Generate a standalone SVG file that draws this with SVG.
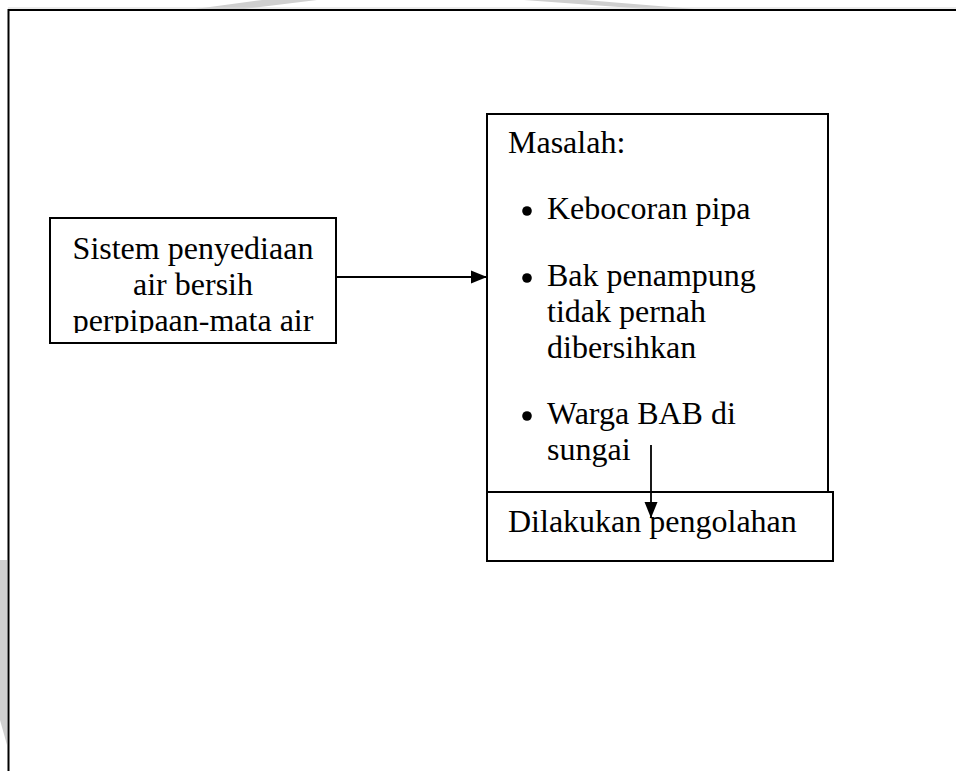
<svg xmlns="http://www.w3.org/2000/svg" width="956" height="771" viewBox="0 0 956 771">
  <style>
    .box { fill: #ffffff; stroke: #000000; stroke-width: 2; }
    .t { font-family: "Liberation Serif", "Times New Roman", serif; font-size: 32px; fill: #000000; }
    .edge { stroke: #000000; stroke-width: 1.8; fill: none; }
    .wm { fill: #cfcfcf; }
  </style>
  <defs>
    <marker id="arrow" viewBox="0 0 16 14" refX="16" refY="7" markerWidth="16" markerHeight="14" markerUnits="userSpaceOnUse" orient="auto">
      <path d="M0,0.5 L16,7 L0,13.5 Z" fill="#000000"/>
    </marker>
    <clipPath id="clipLeft">
      <rect x="50" y="218" width="286" height="115"/>
    </clipPath>
  </defs>
  <rect x="0" y="0" width="956" height="771" fill="#ffffff"/>
  <!-- faint watermark fragments visible in the margins -->
  <polygon class="wm" points="195,9 244,9 317,0 262,0"/>
  <polygon class="wm" points="646,9 695,9 585,0 524,0"/>
  <polygon class="wm" points="0,560 7,560 7,745 0,720"/>
  <line x1="8" y1="8" x2="956" y2="8" stroke="#d8d8d8" stroke-width="1"/>
  <path d="M8.5,771 L8.5,10 L956,10" fill="none" stroke="#000000" stroke-width="2"/>

  <g id="node-sistem">
    <rect class="box" x="50" y="218" width="286" height="125"/>
    <g clip-path="url(#clipLeft)">
      <text class="t" x="193" y="259" text-anchor="middle">Sistem penyediaan</text>
      <text class="t" x="193" y="295" text-anchor="middle">air bersih</text>
      <text class="t" x="193" y="331" text-anchor="middle">perpipaan-mata air</text>
    </g>
  </g>

  <g id="node-masalah">
    <rect class="box" x="487" y="114" width="341" height="378"/>
    <text class="t" x="508" y="153">Masalah:</text>
    <circle cx="527" cy="211" r="4.8" fill="#000000"/>
    <text class="t" x="547" y="219">Kebocoran pipa</text>
    <circle cx="527" cy="278" r="4.8" fill="#000000"/>
    <text class="t" x="547" y="286">Bak penampung</text>
    <text class="t" x="547" y="322">tidak pernah</text>
    <text class="t" x="547" y="358">dibersihkan</text>
    <circle cx="527" cy="416" r="4.8" fill="#000000"/>
    <text class="t" x="547" y="424">Warga BAB di</text>
    <text class="t" x="547" y="460">sungai</text>
  </g>

  <g id="node-pengolahan">
    <rect class="box" x="487" y="492" width="346" height="69"/>
    <text class="t" x="508" y="532">Dilakukan pengolahan</text>
  </g>

  <g id="connectors">
    <line class="edge" x1="336" y1="277" x2="487" y2="277" marker-end="url(#arrow)"/>
    <line class="edge" x1="651" y1="445" x2="651" y2="518" marker-end="url(#arrow)"/>
  </g>
</svg>
